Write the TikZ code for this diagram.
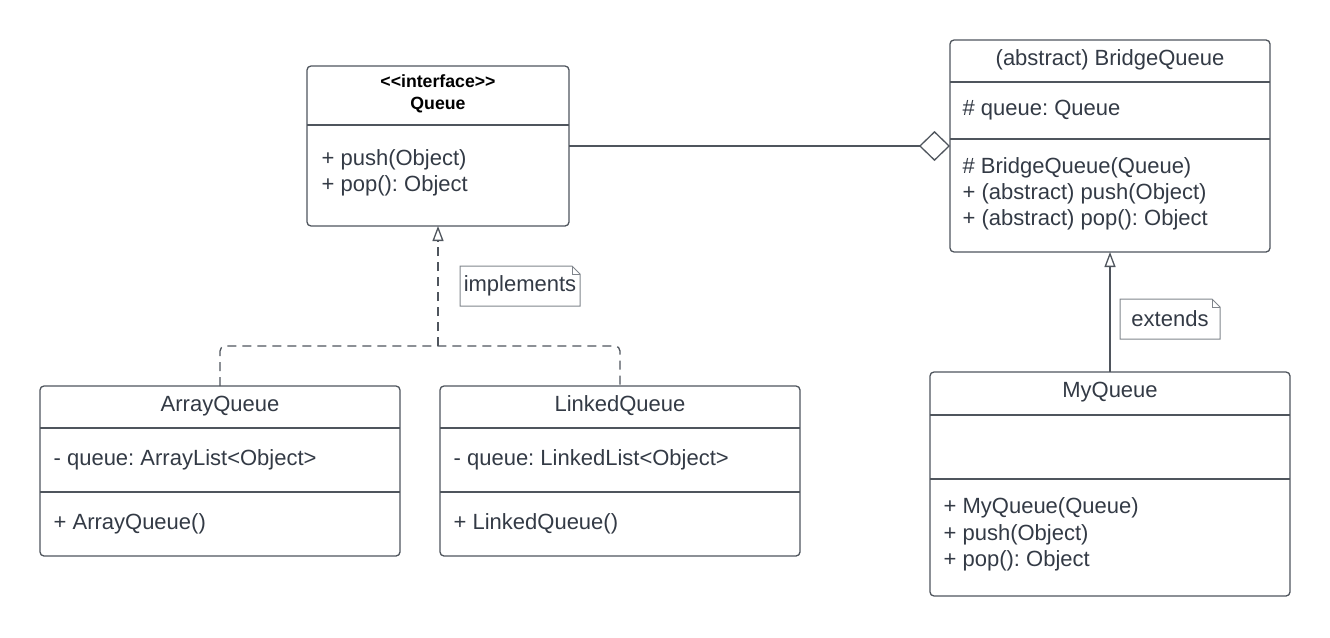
\documentclass[tikz,border=0pt]{standalone}
\usepackage{fontspec}
\setmainfont{Liberation Sans}
\usetikzlibrary{arrows.meta,calc}
\definecolor{umlline}{HTML}{4F555D}
\definecolor{umltext}{HTML}{333A45}
\definecolor{notegray}{HTML}{80858C}
\frenchspacing

\begin{document}
\begin{tikzpicture}[x=1pt, y=-1pt, line width=1.3pt, umlline,
   classbox/.style={draw=umlline, rounded corners=4pt, inner sep=0pt, outer sep=0pt},
   member/.style={anchor=west, inner sep=0pt, text=umltext, font=\fontsize{22}{26}\selectfont, text height=16pt, text depth=5pt},
   title/.style={inner sep=0pt, text=umltext, font=\fontsize{22}{26}\selectfont, text height=16pt, text depth=5pt},
   stereo/.style={inner sep=0pt, text=black, font=\bfseries\fontsize{17.7}{21}\selectfont, text height=13pt, text depth=4pt},
   notebox/.style={inner sep=0pt, outer sep=0pt, text=umltext, font=\fontsize{22}{26}\selectfont},
   noteline/.style={draw=notegray, line width=1pt},
   realize/.style={dash pattern=on 9pt off 6pt, rounded corners=5pt},
   hollow/.style={-{Triangle[open, length=15pt, width=11pt]}},
   aggregate/.style={-{Diamond[open, length=31pt, width=30pt]}}]
      \useasboundingbox (0,0) rectangle (1330,637);
      \node[classbox, minimum width=262pt, minimum height=160pt] (queue) at (438,146) {};
      \node[classbox, minimum width=320pt, minimum height=212pt] (bridge) at (1110,146) {};
      \node[classbox, minimum width=360pt, minimum height=170pt] (arrayq) at (220,471) {};
      \node[classbox, minimum width=360pt, minimum height=170pt] (linkedq) at (620,471) {};
      \node[classbox, minimum width=360pt, minimum height=224pt] (myq) at (1110,484) {};
      \draw (queue.west |- 0,125) -- (queue.east |- 0,125);
      \draw (bridge.west |- 0,82) -- (bridge.east |- 0,82);
      \draw (bridge.west |- 0,139) -- (bridge.east |- 0,139);
      \draw (arrayq.west |- 0,428) -- (arrayq.east |- 0,428);
      \draw (arrayq.west |- 0,492) -- (arrayq.east |- 0,492);
      \draw (linkedq.west |- 0,428) -- (linkedq.east |- 0,428);
      \draw (linkedq.west |- 0,492) -- (linkedq.east |- 0,492);
      \draw (myq.west |- 0,415) -- (myq.east |- 0,415);
      \draw (myq.west |- 0,479) -- (myq.east |- 0,479);
      \node[stereo] (queueSt) at (438,83) {<\kern0pt<interface>\kern0pt>};
      \node[stereo] (queueName) at (438,105) {Queue};
      \node[member] (queuePush) at (321,160) {+ push(Object)};
      \node[member] (queuePop) at (321,186) {+ pop(): Object};
      \node[title] (bridgeName) at (1110,60) {(abstract) BridgeQueue};
      \node[member] (bridgeAttr) at (962,110) {\# queue: Queue};
      \node[member] (bridgeCtor) at (962,168) {\# BridgeQueue(Queue)};
      \node[member] (bridgePush) at (962,194) {+ (abstract) push(Object)};
      \node[member] (bridgePop) at (962,220) {+ (abstract) pop(): Object};
      \node[title] (arrayName) at (220,406) {ArrayQueue};
      \node[member] (arrayAttr) at (53,460) {- queue: ArrayList<Object>};
      \node[member] (arrayCtor) at (53,524) {+ ArrayQueue()};
      \node[title] (linkedName) at (620,406) {LinkedQueue};
      \node[member] (linkedAttr) at (453,460) {- queue: LinkedList<Object>};
      \node[member] (linkedCtor) at (453,524) {+ LinkedQueue()};
      \node[title] (myName) at (1110,392) {MyQueue};
      \node[member] (myCtor) at (943,508) {+ MyQueue(Queue)};
      \node[member] (myPush) at (943,535) {+ push(Object)};
      \node[member] (myPop) at (943,561) {+ pop(): Object};
      \node[notebox, minimum width=120pt, minimum height=40pt] (implNote) at (520,286) {implements};
      \draw[noteline] (implNote.south west) -- (implNote.north west) -- ([xshift=-8pt]implNote.north east) -- ([yshift=-8pt]implNote.north east) -- (implNote.south east) -- cycle;
      \draw[noteline] ([xshift=-8pt]implNote.north east) |- ([yshift=-8pt]implNote.north east);
      \node[notebox, minimum width=100pt, minimum height=40pt] (extNote) at (1170,319) {extends};
      \draw[noteline] (extNote.south west) -- (extNote.north west) -- ([xshift=-8pt]extNote.north east) -- ([yshift=-8pt]extNote.north east) -- (extNote.south east) -- cycle;
      \draw[noteline] ([xshift=-8pt]extNote.north east) |- ([yshift=-8pt]extNote.north east);
      \coordinate (implJoin) at (438,346);
      \draw[realize] (arrayq.north) |- (implJoin) -| (linkedq.north);
      \draw[realize, hollow] (implJoin) -- (queue.south);
      \draw[hollow] (myq.north) -- (bridge.south);
      \draw[aggregate] (queue.east) -- (queue.east -| bridge.west);
   \end{tikzpicture}
\end{document}
